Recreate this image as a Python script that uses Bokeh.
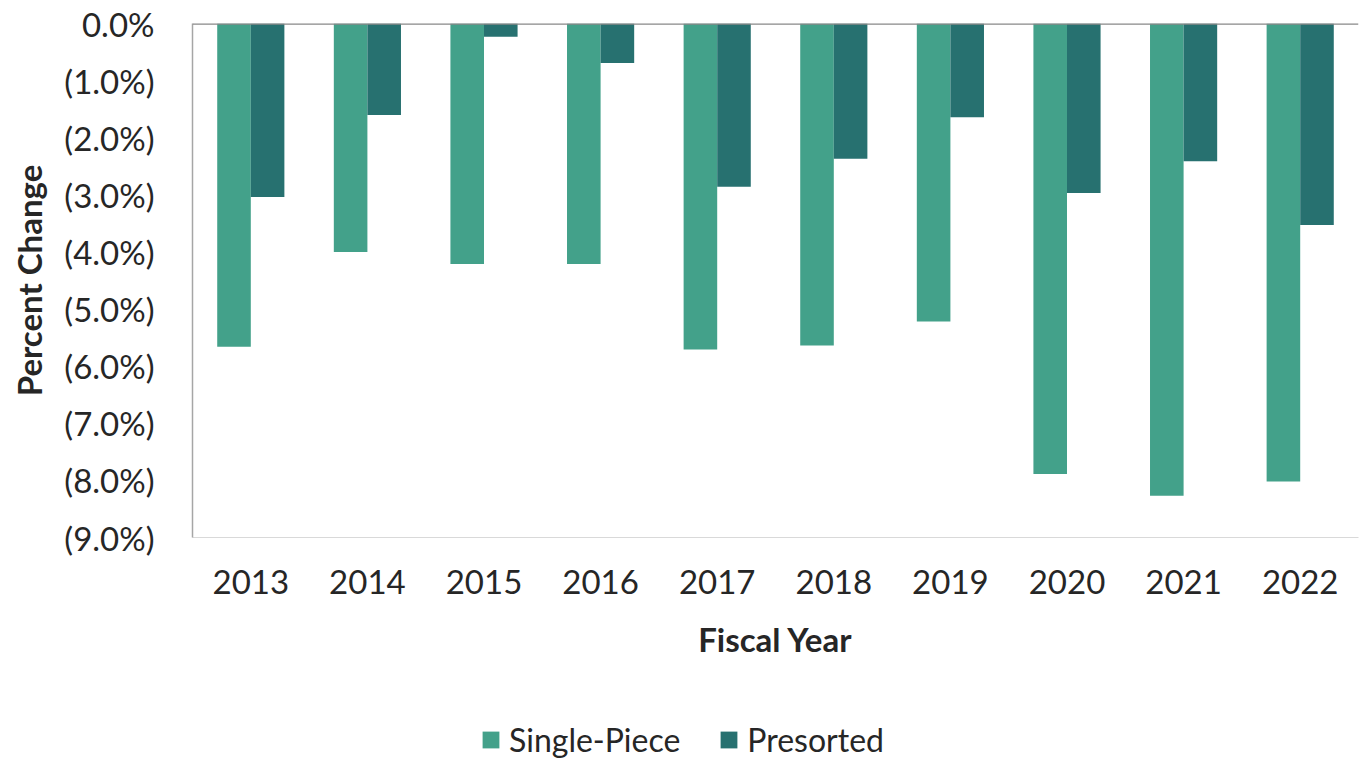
from bokeh.plotting import figure
from bokeh.layouts import column
from bokeh.models import (ColumnDataSource, FactorRange, Range1d, FixedTicker,
                          Legend, LegendItem, Span)
from bokeh.transform import dodge
from bokeh.embed import file_html
from bokeh.resources import INLINE

# Annual percent change by fiscal year
years = ["2013", "2014", "2015", "2016", "2017", "2018", "2019", "2020", "2021", "2022"]
single_piece = [-5.66, -4.00, -4.21, -4.21, -5.71, -5.64, -5.22, -7.89, -8.27, -8.02]
presorted = [-3.04, -1.60, -0.23, -0.69, -2.86, -2.37, -1.64, -2.97, -2.41, -3.53]

y_ticks = [0, -1, -2, -3, -4, -5, -6, -7, -8, -9]
y_tick_labels = ["0.0%", "(1.0%)", "(2.0%)", "(3.0%)", "(4.0%)", "(5.0%)",
                 "(6.0%)", "(7.0%)", "(8.0%)", "(9.0%)"]
series_names = ["Single-Piece", "Presorted"]

SP_COLOR = "#43a18a"
PR_COLOR = "#277170"
TEXT = "#262626"
FONT = "Lato"

source = ColumnDataSource(dict(year=years, sp=single_piece, pr=presorted,
                               zero=[0] * len(years)))

p = figure(x_range=FactorRange(*years), y_range=Range1d(-9, 0),
           width=1368, height=680, output_backend="svg", toolbar_location=None,
           min_border_left=192, min_border_right=10, min_border_top=23,
           min_border_bottom=143)
p.outline_line_color = None
p.xgrid.grid_line_color = None
p.ygrid.grid_line_color = None

p.vbar(x=dodge("year", -0.144, range=p.x_range), top="zero", bottom="sp",
       width=0.288, source=source, fill_color=SP_COLOR, line_color=None)
p.vbar(x=dodge("year", 0.144, range=p.x_range), top="zero", bottom="pr",
       width=0.288, source=source, fill_color=PR_COLOR, line_color=None)

# zero baseline across the top of the frame
p.add_layout(Span(location=0, dimension="width", line_color="#888888", line_width=2.5))

# y axis
p.yaxis.ticker = FixedTicker(ticks=y_ticks)
p.yaxis.major_label_overrides = {t: s for t, s in zip(y_ticks, y_tick_labels)}
p.yaxis.axis_line_color = "#a6a6a6"
p.yaxis.axis_line_width = 1.5
p.yaxis.major_tick_line_color = None
p.yaxis.minor_tick_line_color = None
p.yaxis.major_label_standoff = 32
p.yaxis.major_label_text_font = FONT
p.yaxis.major_label_text_font_size = "33px"
p.yaxis.major_label_text_color = TEXT
p.yaxis.axis_label = "Percent Change"
p.yaxis.axis_label_text_font = FONT
p.yaxis.axis_label_text_font_style = "bold"
p.yaxis.axis_label_text_font_size = "33px"
p.yaxis.axis_label_text_color = TEXT
p.yaxis.axis_label_standoff = 12

# x axis
p.xaxis.axis_line_color = "#d9d9d9"
p.xaxis.axis_line_width = 1
p.xaxis.major_tick_line_color = None
p.xaxis.minor_tick_line_color = None
p.xaxis.major_label_standoff = 26
p.xaxis.major_label_text_font = FONT
p.xaxis.major_label_text_font_size = "33px"
p.xaxis.major_label_text_color = TEXT
p.xaxis.axis_label = "Fiscal Year"
p.xaxis.axis_label_text_font = FONT
p.xaxis.axis_label_text_font_style = "bold"
p.xaxis.axis_label_text_font_size = "33px"
p.xaxis.axis_label_text_color = TEXT
p.xaxis.axis_label_standoff = 22

# legend strip under the chart; key renderers sit outside its visible range
lg = figure(width=1368, height=79, output_backend="svg", toolbar_location=None,
            x_axis_type=None, y_axis_type=None, min_border=0,
            x_range=Range1d(0, 1), y_range=Range1d(0, 1))
lg.outline_line_color = None
lg.xgrid.grid_line_color = None
lg.ygrid.grid_line_color = None
key_sp = lg.vbar(x=[-5], top=[-5], bottom=[-6], width=1,
                 fill_color=SP_COLOR, line_color=None)
key_pr = lg.vbar(x=[-5], top=[-5], bottom=[-6], width=1,
                 fill_color=PR_COLOR, line_color=None)

legend = Legend(items=[LegendItem(label=series_names[0], renderers=[key_sp]),
                       LegendItem(label=series_names[1], renderers=[key_pr])],
                orientation="horizontal", location=(288, 0),
                glyph_width=21, glyph_height=21, label_standoff=8, spacing=38,
                padding=0, margin=0, border_line_color=None,
                background_fill_alpha=0,
                label_text_font=FONT, label_text_font_size="32px",
                label_text_color=TEXT)
lg.add_layout(legend, "center")

open("out.html", "w").write(file_html(column(p, lg, spacing=0), INLINE))
